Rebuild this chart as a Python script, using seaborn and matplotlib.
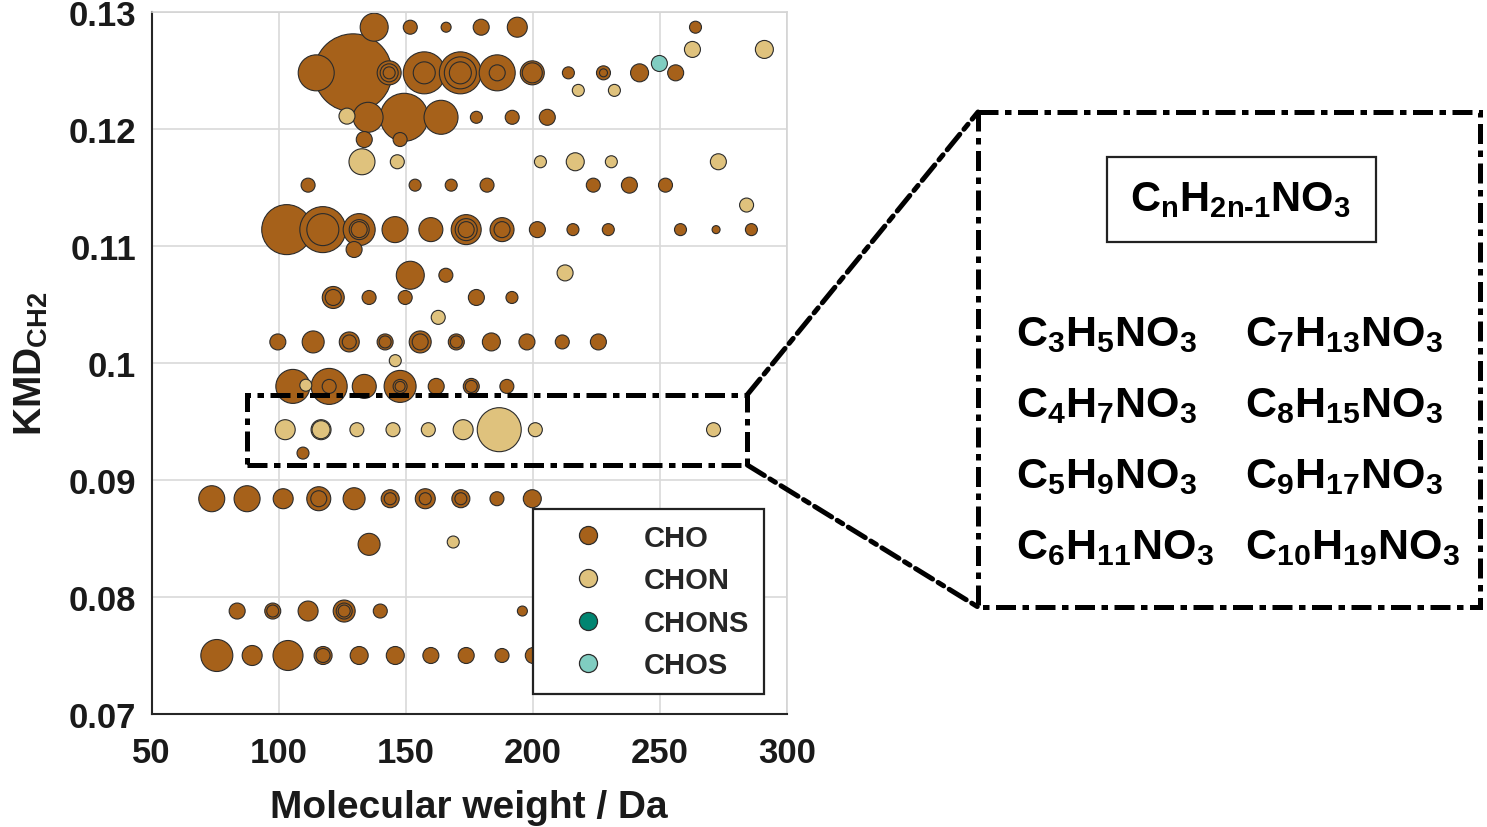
import matplotlib
matplotlib.use("Agg")
import matplotlib.pyplot as plt
import seaborn as sns
import pandas as pd
from matplotlib.lines import Line2D
from matplotlib.patches import Rectangle, ConnectionPatch

# ---- data: KMD_CH2 of each homologous row, molecular weights (Da) and
# ---- relative intensity (bubble radius) of the compounds in that row
cho_row_kmd = [0.1287, 0.1248, 0.1210, 0.1191, 0.1152, 0.1114, 0.1097, 0.1075,
               0.1056, 0.1018, 0.0980, 0.0923, 0.0884, 0.0845, 0.0788, 0.0750]
cho_row_mw = [
    [137.6, 151.8, 165.9, 179.7, 193.9, 264.0],
    [114.8, 129.3, 143.5, 143.5, 143.5, 157.3, 157.3, 171.5, 171.5, 171.5,
     186.0, 186.0, 199.8, 199.8, 214.0, 227.8, 227.8, 242.0, 256.2],
    [135.2, 149.4, 163.9, 177.8, 191.9, 205.7],
    [133.7, 147.8],
    [111.6, 153.7, 167.9, 182.0, 223.8, 238.0, 252.2],
    [103.2, 117.4, 117.4, 131.7, 131.7, 131.7, 145.8, 159.9, 173.8, 173.8,
     173.8, 187.9, 187.9, 201.8, 215.8, 229.7, 258.1, 272.1, 286.0],
    [129.7],
    [151.8, 165.8],
    [121.5, 121.5, 135.6, 149.8, 177.8, 191.8],
    [99.7, 113.6, 127.8, 127.8, 141.9, 141.9, 155.7, 155.7, 169.9, 169.9,
     183.7, 197.7, 211.6, 225.8],
    [105.6, 119.9, 119.9, 133.7, 147.8, 147.8, 147.8, 162.0, 175.8, 175.8, 189.8],
    [109.6],
    [73.7, 87.6, 101.8, 115.8, 115.8, 129.7, 143.9, 143.9, 157.7, 157.7,
     171.7, 171.7, 185.9, 199.8],
    [135.6],
    [83.7, 97.7, 97.7, 111.6, 125.8, 125.8, 125.8, 140.0, 195.9],
    [75.7, 89.6, 103.7, 117.5, 117.5, 131.7, 145.9, 159.9, 173.8, 187.9, 200.2],
]
cho_row_int = [
    [14, 7, 5, 8, 10, 6],
    [18, 39, 12, 9, 6, 21, 11, 21, 16, 11, 18, 8, 12, 10, 6, 7, 4, 9, 8],
    [15, 24, 17, 6, 7, 8],
    [8, 7],
    [7, 6, 6, 7, 7, 8, 7],
    [25, 23, 16, 16, 10, 8, 13, 12, 15, 11, 8, 12, 8, 8, 6, 6, 6, 4, 6],
    [8],
    [14, 7],
    [11, 8, 7, 7, 8, 6],
    [8, 11, 10, 7, 8, 6, 11, 8, 8, 6, 9, 8, 7, 8],
    [17, 18, 7, 12, 16, 7, 5, 8, 8, 6, 7],
    [6],
    [13, 13, 10, 12, 8, 11, 9, 6, 10, 6, 9, 6, 7, 9],
    [11],
    [8, 8, 6, 10, 11, 8, 6, 7, 5],
    [16, 10, 15, 9, 7, 9, 9, 8, 8, 7, 8],
]

chon_row_kmd = [0.1268, 0.1233, 0.1211, 0.1172, 0.1135, 0.1077, 0.1039,
                0.1002, 0.0981, 0.0943, 0.0847]
chon_row_mw = [
    [262.8, 291.1],
    [217.9, 232.1],
    [126.9],
    [132.8, 146.7, 203.0, 216.7, 230.9, 273.0],
    [284.1],
    [212.7],
    [162.8],
    [145.9],
    [110.7],
    [102.6, 116.7, 116.7, 130.8, 145.0, 158.9, 172.6, 186.8, 201.0, 271.1],
    [168.7],
]
chon_row_int = [
    [8, 9], [6, 6], [8], [13, 7, 6, 9, 6, 8], [7], [8], [7], [6], [6],
    [10, 10, 9, 7, 7, 7, 10, 22, 7, 7], [6],
]

chos_mw = [249.8]
chos_kmd = [0.1256]
chos_int = [8]

groups = ["CHO", "CHON", "CHONS", "CHOS"]
colors = {"CHO": "#a6611a", "CHON": "#dfc27d", "CHONS": "#018571", "CHOS": "#80cdc1"}

formulas_left = [r"$C_3H_5NO_3$", r"$C_4H_7NO_3$", r"$C_5H_9NO_3$", r"$C_6H_{11}NO_3$"]
formulas_right = [r"$C_7H_{13}NO_3$", r"$C_8H_{15}NO_3$", r"$C_9H_{17}NO_3$",
                  r"$C_{10}H_{19}NO_3$"]
general_formula = "$C_nH_{2n\u20101}NO_3$"

# ---- build the table
rows = []
for kmd, mws, ints in zip(cho_row_kmd, cho_row_mw, cho_row_int):
    for m, i in zip(mws, ints):
        rows.append({"group": "CHO", "mw": m, "kmd": kmd, "intensity": i})
for kmd, mws, ints in zip(chon_row_kmd, chon_row_mw, chon_row_int):
    for m, i in zip(mws, ints):
        rows.append({"group": "CHON", "mw": m, "kmd": kmd, "intensity": i})
for m, k, i in zip(chos_mw, chos_kmd, chos_int):
    rows.append({"group": "CHOS", "mw": m, "kmd": k, "intensity": i})
df = pd.DataFrame(rows)
df["area"] = df["intensity"] ** 2
df = df.sort_values("area", ascending=False, kind="stable")

# ---- style
sns.set_style("whitegrid")
plt.rcParams["font.family"] = ["Liberation Sans", "DejaVu Sans"]
plt.rcParams["font.weight"] = "bold"
plt.rcParams["mathtext.fontset"] = "custom"
for k in ["rm", "it", "bf", "sf"]:
    plt.rcParams["mathtext." + k] = "Liberation Sans:bold"
plt.rcParams["mathtext.default"] = "rm"

W, H = 1487, 828
fig = plt.figure(figsize=(W / 100, H / 100), dpi=100)
ax = fig.add_axes([151.5 / W, 1 - 715 / H, 635.5 / W, 702 / H])

imin, imax = df["area"].min(), df["area"].max()
k_px = (2 * 0.72) ** 2  # radius in px -> marker area in pt^2
sns.scatterplot(data=df, x="mw", y="kmd", hue="group", palette=colors,
                size="area", sizes=(k_px * imin, k_px * imax), size_norm=(imin, imax),
                edgecolor="#2b2b2b", linewidth=0.8, alpha=1, legend=False, ax=ax)

ax.set_xlim(50, 300)
ax.set_ylim(0.07, 0.13)
ax.set_xticks([50, 100, 150, 200, 250, 300])
ax.set_xticklabels(["50", "100", "150", "200", "250", "300"])
ax.set_yticks([0.07, 0.08, 0.09, 0.1, 0.11, 0.12, 0.13])
ax.set_yticklabels(["0.07", "0.08", "0.09", "0.1", "0.11", "0.12", "0.13"])
ax.tick_params(axis="both", direction="in", length=6, width=1.2, color="#262626",
               labelsize=25, labelcolor="#1a1a1a")
ax.tick_params(axis="x", pad=16)
ax.tick_params(axis="y", pad=11)
ax.grid(True, color="#d9d9d9", linewidth=1.2)
ax.set_axisbelow(True)
for s in ["left", "bottom"]:
    ax.spines[s].set_color("#262626")
    ax.spines[s].set_linewidth(1.5)
for s in ["top", "right"]:
    ax.spines[s].set_color("#d4d4d4")
    ax.spines[s].set_linewidth(1.2)

ax.set_xlabel("Molecular weight / Da", fontsize=28, fontweight="bold",
              color="#1a1a1a", labelpad=14)
ax.set_ylabel(r"KMD$_{CH2}$", fontsize=28, fontweight="bold", color="#1a1a1a")
ax.yaxis.set_label_coords(-0.16, 0.5)

handles = [Line2D([], [], ls="", marker="o", markersize=13, markerfacecolor=colors[g],
                  markeredgecolor="#2b2b2b", markeredgewidth=0.9, label=g) for g in groups]
leg = ax.legend(handles=handles, loc="upper left", bbox_to_anchor=(0.6, 0.292),
                borderaxespad=0, fontsize=21, frameon=True, fancybox=False,
                framealpha=1, edgecolor="#222222", handlelength=2.8,
                handletextpad=0.5, borderpad=0.5, labelspacing=0.5)
leg.get_frame().set_linewidth(1.6)

# ---- zoom box, connectors and formula panel
dash = (0, (4, 1.3, 1.3, 1.3))
ax.add_patch(Rectangle((87.4, 0.09128), 284.4 - 87.4, 0.0973 - 0.09128, fill=False,
                       lw=3.6, ls=dash, ec="black", zorder=6))

ov = fig.add_axes([0, 0, 1, 1], facecolor="none")
ov.set_xlim(0, W)
ov.set_ylim(H, 0)
ov.axis("off")
ov.add_patch(Rectangle((978, 113), 502, 495, fill=False, lw=3.6, ls=dash, ec="black"))
for ya, yb in [(0.0973, 113), (0.09128, 608)]:
    con = ConnectionPatch(xyA=(284.4, ya), coordsA=ax.transData, xyB=(978, yb),
                          coordsB=ov.transData, lw=3.6, ls=dash, color="black")
    fig.add_artist(con)

ov.add_patch(Rectangle((1107, 158), 269, 85, fill=False, lw=1.6, ec="#222222"))
ov.text(1241, 200, general_formula, fontsize=30, ha="center", va="center", color="black")
for i, (fl, fr) in enumerate(zip(formulas_left, formulas_right)):
    y = 335 + i * 71
    ov.text(1016, y, fl, fontsize=31, ha="left", va="center", color="black")
    ov.text(1245, y, fr, fontsize=31, ha="left", va="center", color="black")

fig.savefig("out.png", dpi=100)
